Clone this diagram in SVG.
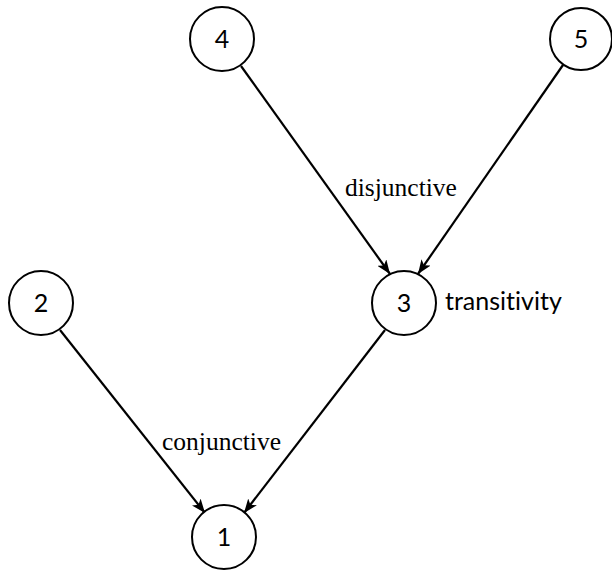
<svg xmlns="http://www.w3.org/2000/svg" width="612" height="571" viewBox="0 0 612 571">
<style>
.node circle{fill:#fff;stroke:#000;stroke-width:2}
.node text{font-family:Lato,"Open Sans",sans-serif;font-size:25px;text-anchor:middle;fill:#000}
.edge{stroke:#000;stroke-width:2.2;fill:none;marker-end:url(#arr)}
.elabel{font-family:"Liberation Serif",serif;font-size:25.5px;fill:#000}
.nlabel{font-family:Lato,sans-serif;font-size:20.5px;fill:#000;font-variant-ligatures:none}
</style>
<defs>
<marker id="arr" viewBox="0 0 14 11" refX="14" refY="5.5" markerWidth="14" markerHeight="11" markerUnits="userSpaceOnUse" orient="auto">
<path d="M0,0 L14,5.5 L0,11 L3.5,5.5 Z" fill="#000"/>
</marker>
</defs>
<rect width="612" height="571" fill="#fff"/>
<g id="connectors">
<line class="edge" x1="241" y1="66" x2="390" y2="274"/>
<line class="edge" x1="563" y1="65" x2="418" y2="274"/>
<line class="edge" x1="60" y1="330" x2="205" y2="513"/>
<line class="edge" x1="385" y1="330" x2="244" y2="513"/>
<text class="elabel" x="345" y="196">disjunctive</text>
<text class="elabel" x="162" y="450">conjunctive</text>
</g>
<g id="node4" class="node"><circle cx="222" cy="39" r="32"/><text x="222" y="48">4</text></g>
<g id="node5" class="node"><circle cx="581" cy="39" r="31"/><text x="581" y="48">5</text></g>
<g id="node2" class="node"><circle cx="41" cy="303" r="32"/><text x="41" y="312">2</text></g>
<g id="node3" class="node"><circle cx="404" cy="303" r="32"/><text x="404" y="312">3</text><text class="nlabel" x="445" y="310" style="text-anchor:start">transitivity</text></g>
<g id="node1" class="node"><circle cx="224" cy="537" r="32"/><text x="224" y="546">1</text></g>
</svg>
